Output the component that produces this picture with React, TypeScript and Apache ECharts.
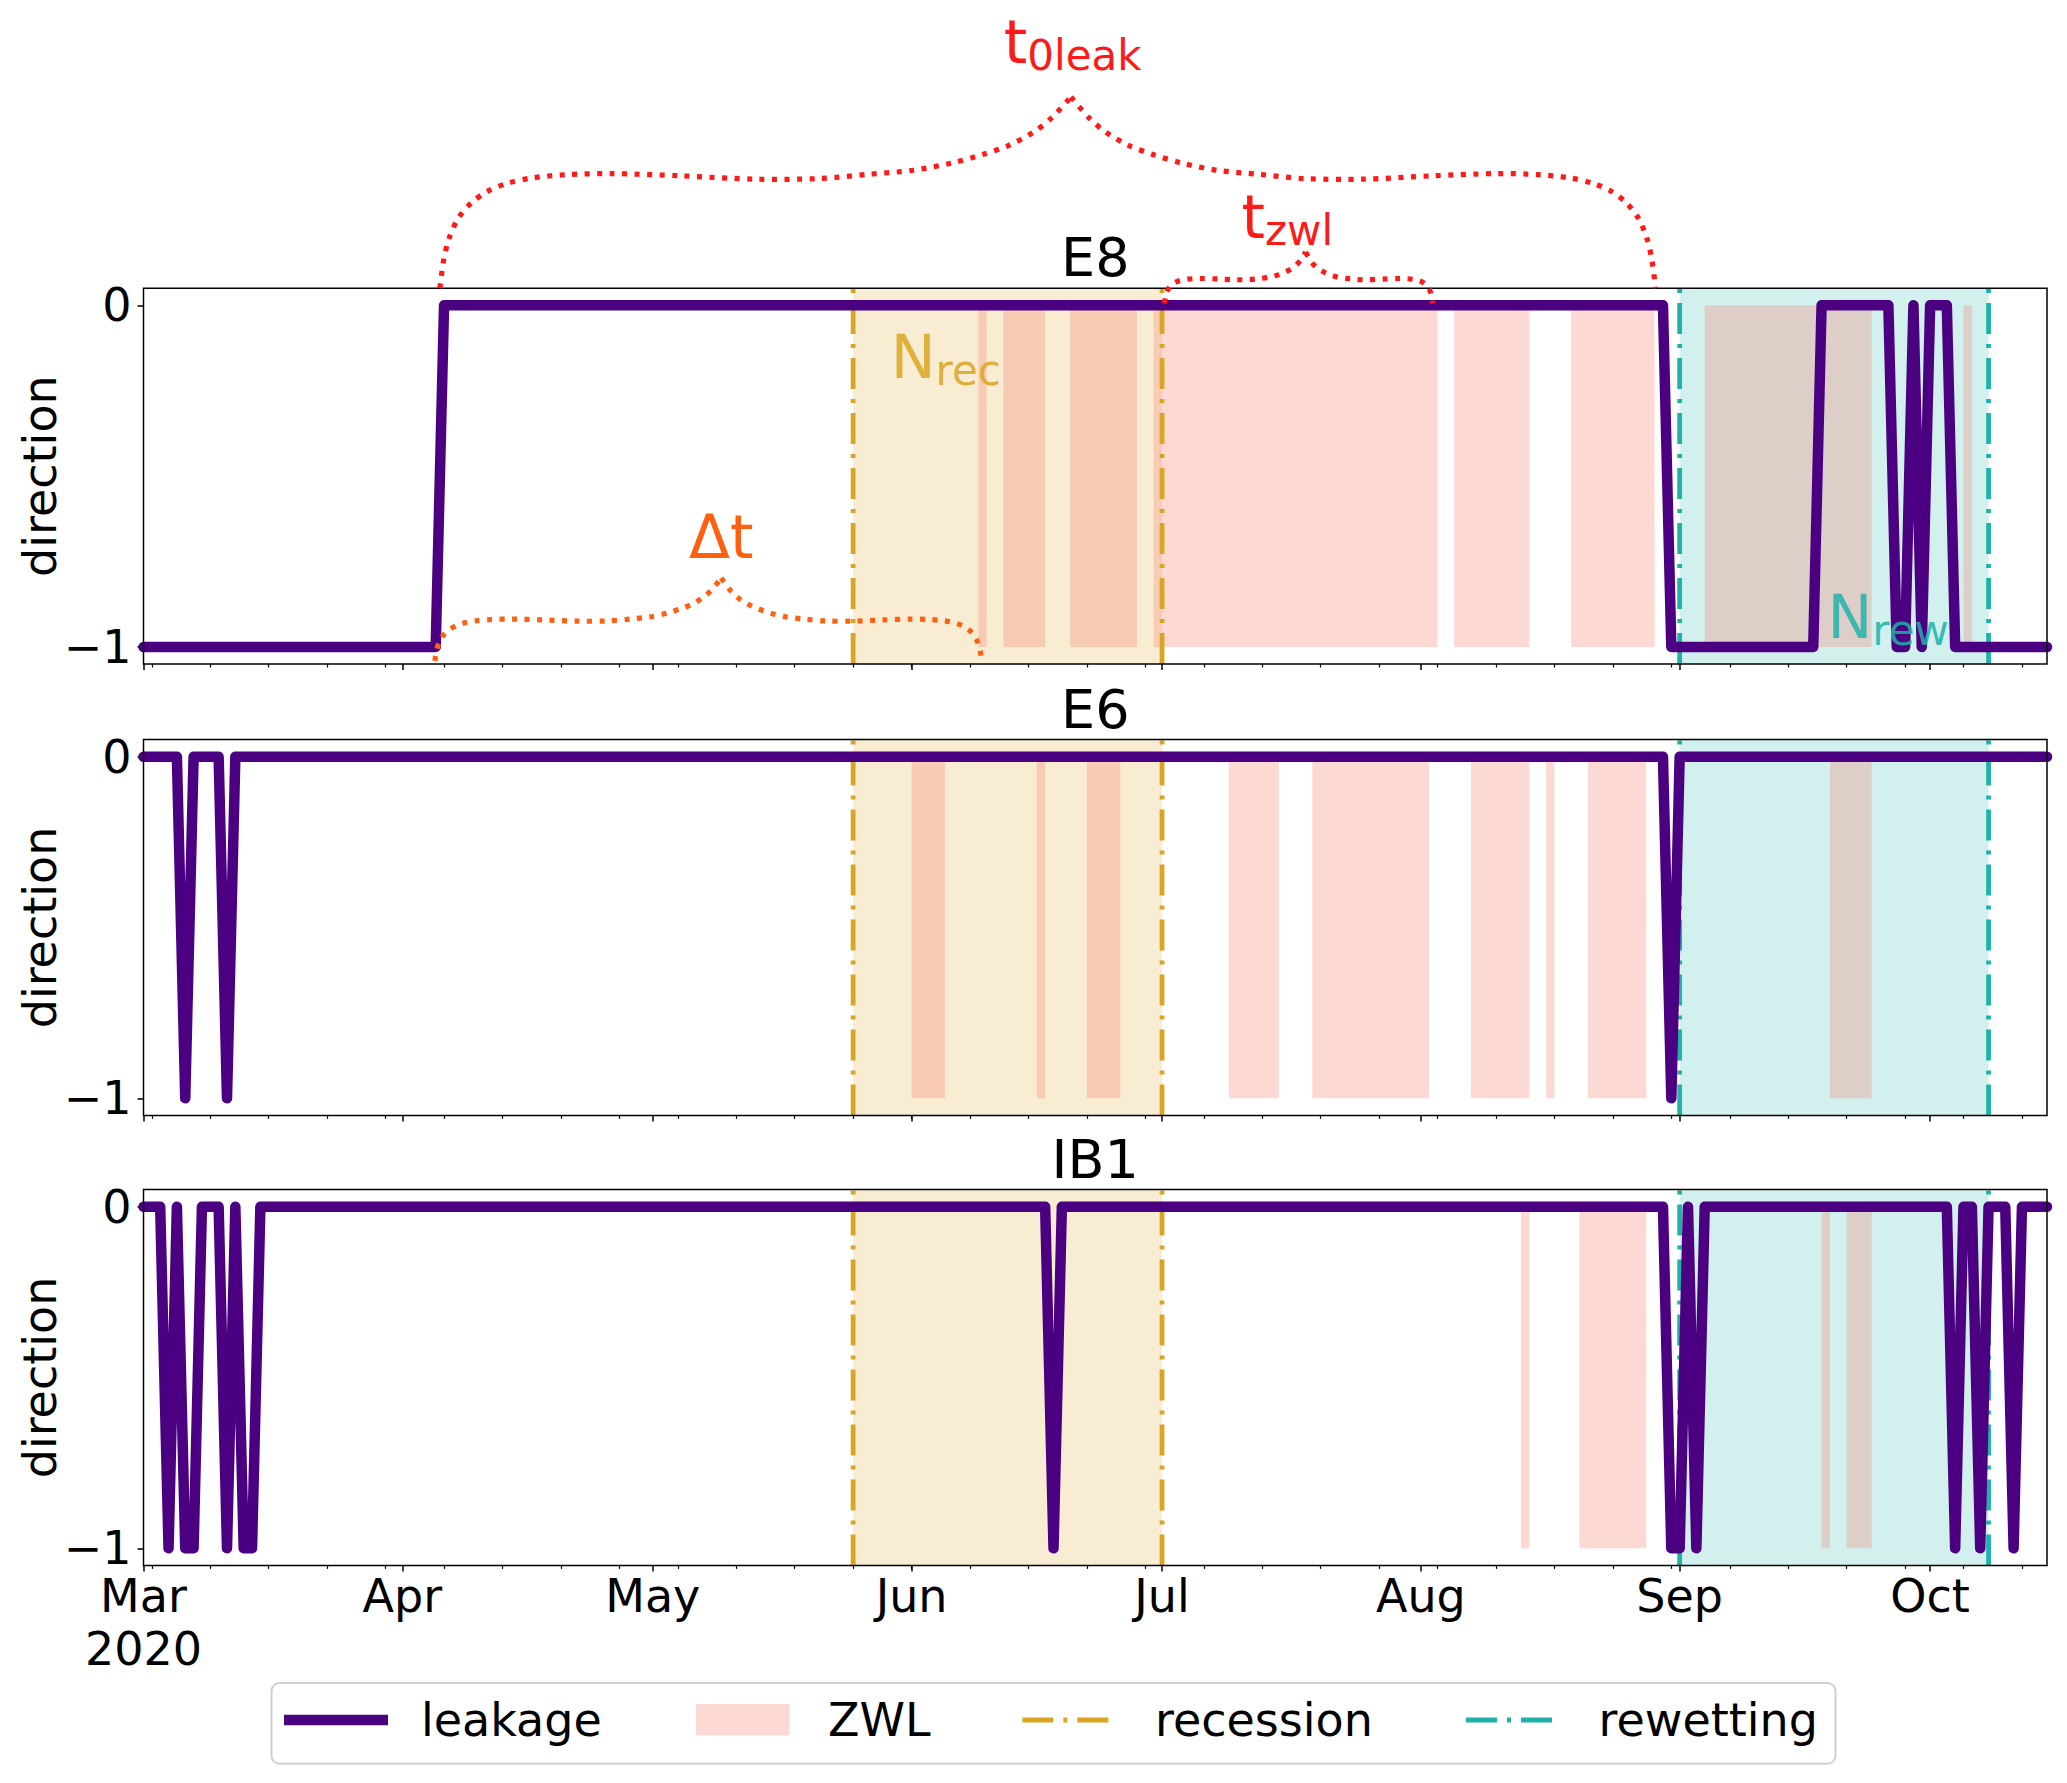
import React, { useEffect, useRef } from "react";
import * as echarts from "echarts";

const WIDTH = 2067;
const HEIGHT = 1783;
const FONT = "DejaVu Sans";

// x values: days since 2020-03-01
const X_MIN = 0;
const X_MAX = 228;
const Y_MIN = -1.05;
const Y_MAX = 0.05;

const monthTickDays = [0, 31, 61, 92, 122, 153, 184, 214];
const monthTickLabels = ["Mar\n2020", "Apr", "May", "Jun", "Jul", "Aug", "Sep", "Oct"];
const weekTickDays = [1, 8, 15, 22, 29, 36, 43, 50, 57, 64, 71, 78, 85, 92, 99, 106, 113, 120, 127, 134, 141, 148, 155, 162, 169, 176, 183, 190, 197, 204, 211, 218, 225];
const yTickValues = [0, -1];
const yTickLabels = ["0", "\u22121"];

const panelNames = ["E8", "E6", "IB1"];

// leakage direction, [day, value] at each corner of the daily series
const leakageE8 = [[0, -1], [35, -1], [36, 0], [182, 0], [183, -1], [200, -1], [201, 0], [209, 0], [210, -1], [211, -1], [212, 0], [213, -1], [214, 0], [216, 0], [217, -1], [228, -1]];
const leakageE6 = [[0, 0], [4, 0], [5, -1], [6, 0], [9, 0], [10, -1], [11, 0], [182, 0], [183, -1], [184, 0], [228, 0]];
const leakageIB1 = [[0, 0], [2, 0], [3, -1], [4, 0], [5, -1], [6, -1], [7, 0], [9, 0], [10, -1], [11, 0], [12, -1], [13, -1], [14, 0], [108, 0], [109, -1], [110, 0], [182, 0], [183, -1], [184, -1], [185, 0], [186, -1], [187, 0], [216, 0], [217, -1], [218, 0], [219, 0], [220, -1], [221, 0], [223, 0], [224, -1], [225, 0], [228, 0]];

// ZWL periods [startDay, endDay]
const zwlE8 = [[100, 101], [103, 108], [111, 119], [121, 155], [157, 166], [171, 181], [187, 207], [218, 219]];
const zwlE6 = [[92, 96], [107, 108], [113, 117], [130, 136], [140, 154], [159, 166], [168, 169], [173, 180], [202, 207]];
const zwlIB1 = [[165, 166], [172, 180], [201, 202], [204, 207]];

const recessionPeriod = [85, 122];
const rewettingPeriod = [184, 221];

// braces on the E8 panel: [fromDay, toDay, peakDay, yEnd, yFlat, yPeak]
const braceT0leak = [35.5, 181.1, 111.1, 0.05, 0.379, 0.61];
const braceTzwl = [122.3, 154.4, 139.2, 0.005, 0.077, 0.156];
const braceDeltaT = [34.9, 100.4, 69.2, -1.041, -0.921, -0.798];

// annotation labels: [day, baseline value]
const labelT0leak = [111.3, 0.724];
const labelTzwl = [137.0, 0.212];
const labelDeltaT = [69.2, -0.727];
const labelNrec = [89.5, -0.199];
const labelNrew = [201.7, -0.96];

// ---------- styles ----------
const LEAK_COLOR = "#4B0082";
const ZWL_FILL = "rgba(250,128,114,0.3)";
const REC_COLOR = "#DAA520";
const REW_COLOR = "#20B2AA";
const REC_FILL = "rgba(218,165,32,0.2)";
const REW_FILL = "rgba(32,178,170,0.2)";
const DASHDOT = [31, 10, 4, 10];
const DASH_W = 4.8;
const RED = "#FF1A1A";
const ORANGE = "#FF5F0F";

const GRID_LEFT = 143.5;
const GRID_WIDTH = 1903.5;
const GRID_HEIGHT = 375.8;
const GRID_TOPS = [288.2, 739.6, 1189.6];

const leakageSets = [leakageE8, leakageE6, leakageIB1];
const zwlSets = [zwlE8, zwlE6, zwlIB1];

// half-brace template: [u, flatFrac, peakFrac]
const BRACE_TEMPLATE = [
  [0, 0, 0], [0.006, 0.25, 0], [0.015, 0.45, 0], [0.03, 0.63, 0], [0.05, 0.76, 0], [0.075, 0.86, 0],
  [0.105, 0.93, 0], [0.145, 0.98, 0], [0.2, 1.01, 0], [0.27, 1.02, 0], [0.38, 1.0, 0], [0.5, 0.97, 0],
  [0.6, 0.975, 0], [0.68, 1.0, 0.02], [0.75, 1, 0.07], [0.81, 1, 0.16], [0.86, 1, 0.27], [0.9, 1, 0.38],
  [0.94, 1, 0.55], [0.97, 1, 0.74], [1, 1, 1],
];

function tickLabelFor(v: number) {
  const i = monthTickDays.indexOf(Math.round(v));
  return i >= 0 ? monthTickLabels[i] : "";
}

function richLabel(main: string, sub: string | null, color: string) {
  return {
    text: sub ? `{m|${main}}{s|${sub}}` : `{m|${main}}`,
    fill: color,
    verticalAlign: "bottom",
    rich: {
      m: { fontSize: 60, fontFamily: FONT, lineHeight: 60, padding: [0, 0, 9, 0], fill: color },
      s: { fontSize: 42, fontFamily: FONT, lineHeight: 42, verticalAlign: "bottom", fill: color },
    },
  };
}

export default function App() {
  const ref = useRef<HTMLDivElement>(null);

  useEffect(() => {
    if (!ref.current) return;
    const chart = echarts.init(ref.current, null, { renderer: "svg" });

    const grid = GRID_TOPS.map((top) => ({ left: GRID_LEFT, top, width: GRID_WIDTH, height: GRID_HEIGHT, show: false }));

    const xAxis: any[] = [];
    const yAxis: any[] = [];
    const series: any[] = [];

    for (let i = 0; i < 3; i++) {
      xAxis.push({
        gridIndex: i,
        type: "value",
        min: X_MIN,
        max: X_MAX,
        position: "bottom",
        axisLine: { show: false, onZero: false },
        splitLine: { show: false },
        axisTick: { show: true, customValues: monthTickDays, length: 6, lineStyle: { color: "#000", width: 1.5 } },
        axisLabel: {
          show: i === 2,
          customValues: monthTickDays,
          formatter: (v: number) => tickLabelFor(v),
          fontSize: 46,
          fontFamily: FONT,
          color: "#000",
          lineHeight: 53,
          margin: 4,
          align: "center",
        },
      });
      xAxis.push({
        gridIndex: i,
        type: "value",
        min: X_MIN,
        max: X_MAX,
        position: "bottom",
        offset: 0,
        axisLine: { show: false, onZero: false },
        splitLine: { show: false },
        axisTick: { show: true, customValues: weekTickDays, length: 3.5, lineStyle: { color: "#000", width: 1.2 } },
        axisLabel: { show: false },
      });
      yAxis.push({
        gridIndex: i,
        type: "value",
        min: Y_MIN,
        max: Y_MAX,
        position: "left",
        axisLine: { show: false, onZero: false },
        splitLine: { show: false },
        axisTick: { show: true, customValues: yTickValues, length: 6, lineStyle: { color: "#000", width: 1.5 } },
        axisLabel: {
          customValues: yTickValues,
          formatter: (v: number) => yTickLabels[yTickValues.indexOf(Math.round(v))] ?? "",
          fontSize: 46,
          fontFamily: FONT,
          color: "#000",
          margin: 12,
        },
      });

      const xi = 2 * i;
      const yi = i;

      // recession / rewetting shading
      series.push({
        type: "custom",
        xAxisIndex: xi,
        yAxisIndex: yi,
        z: 1,
        silent: true,
        encode: { x: [0, 1] },
        data: [[recessionPeriod[0], recessionPeriod[1], 0], [rewettingPeriod[0], rewettingPeriod[1], 1]],
        renderItem: (params: any, api: any) => {
          const x0 = api.coord([api.value(0), 0])[0];
          const x1 = api.coord([api.value(1), 0])[0];
          const cs = params.coordSys;
          return {
            type: "rect",
            shape: { x: x0, y: cs.y, width: x1 - x0, height: cs.height },
            style: { fill: api.value(2) === 0 ? REC_FILL : REW_FILL },
          };
        },
      });

      // ZWL periods
      series.push({
        type: "custom",
        name: "ZWL",
        xAxisIndex: xi,
        yAxisIndex: yi,
        z: 2,
        silent: true,
        encode: { x: [0, 1] },
        data: zwlSets[i],
        renderItem: (params: any, api: any) => {
          const p0 = api.coord([api.value(0), 0]);
          const p1 = api.coord([api.value(1), -1]);
          return {
            type: "rect",
            shape: { x: p0[0], y: p0[1], width: p1[0] - p0[0], height: p1[1] - p0[1] },
            style: { fill: ZWL_FILL },
          };
        },
      });

      // recession / rewetting boundaries
      series.push({
        type: "custom",
        xAxisIndex: xi,
        yAxisIndex: yi,
        z: 3,
        silent: true,
        encode: { x: 0 },
        data: [[recessionPeriod[0], 0], [recessionPeriod[1], 0], [rewettingPeriod[0], 1], [rewettingPeriod[1], 1]],
        renderItem: (params: any, api: any) => {
          const x = api.coord([api.value(0), 0])[0];
          const cs = params.coordSys;
          return {
            type: "line",
            shape: { x1: x, y1: cs.y + cs.height, x2: x, y2: cs.y },
            style: { stroke: api.value(1) === 0 ? REC_COLOR : REW_COLOR, lineWidth: DASH_W, lineDash: DASHDOT, lineCap: "butt" },
          };
        },
      });

      // leakage
      series.push({
        type: "line",
        name: "leakage",
        xAxisIndex: xi,
        yAxisIndex: yi,
        z: 4,
        data: leakageSets[i],
        symbol: "none",
        showSymbol: false,
        lineStyle: { color: LEAK_COLOR, width: 10.5, join: "round", cap: "round" },
        clip: false,
      });

      // frame
      series.push({
        type: "custom",
        xAxisIndex: xi,
        yAxisIndex: yi,
        z: 5,
        silent: true,
        data: [[0, 0]],
        renderItem: (params: any) => {
          const cs = params.coordSys;
          return {
            type: "rect",
            shape: { x: cs.x, y: cs.y, width: cs.width, height: cs.height },
            style: { fill: "none", stroke: "#000", lineWidth: 1.5 },
          };
        },
      });
    }

    // braces on E8 panel
    const braceColors = [RED, RED, ORANGE];
    series.push({
      type: "custom",
      xAxisIndex: 0,
      yAxisIndex: 0,
      z: 6,
      silent: true,
      clip: false,
      encode: { x: [0, 1] },
      data: [braceT0leak.concat([0]), braceTzwl.concat([1]), braceDeltaT.concat([2])],
      renderItem: (params: any, api: any) => {
        const from = api.value(0), to = api.value(1), peak = api.value(2);
        const yEnd = api.value(3), yFlat = api.value(4), yPeak = api.value(5);
        const color = braceColors[api.value(6)];
        const A = api.coord([from, yEnd]);
        const B = api.coord([to, yEnd]);
        const P = api.coord([peak, yPeak]);
        const hEnd = A[1];
        const hFlat = api.coord([peak, yFlat])[1];
        const hPeak = P[1];
        const half = (xs: number) =>
          BRACE_TEMPLATE.map(([u, a, b]) => [xs + u * (P[0] - xs), hEnd + a * (hFlat - hEnd) + b * (hPeak - hFlat)]);
        const style = { stroke: color, fill: "none", lineWidth: 5.2, lineDash: [5, 7.5], lineCap: "butt" };
        return {
          type: "group",
          children: [
            { type: "polyline", shape: { points: half(A[0]), smooth: 0.3 }, style },
            { type: "polyline", shape: { points: half(B[0]).reverse(), smooth: 0.3 }, style },
          ],
        };
      },
    });

    // annotation labels on E8 panel
    const labelDefs = [
      { pos: labelT0leak, main: "t", sub: "0leak", color: RED, align: "center" },
      { pos: labelTzwl, main: "t", sub: "zwl", color: RED, align: "center" },
      { pos: labelDeltaT, main: "\u0394t", sub: null, color: ORANGE, align: "center" },
      { pos: labelNrec, main: "N", sub: "rec", color: "rgba(218,165,32,0.85)", align: "left" },
      { pos: labelNrew, main: "N", sub: "rew", color: "rgba(32,178,170,0.85)", align: "left" },
    ];
    series.push({
      type: "custom",
      xAxisIndex: 0,
      yAxisIndex: 0,
      z: 7,
      silent: true,
      clip: false,
      encode: { x: 0, y: 1 },
      data: labelDefs.map((d, k) => [d.pos[0], d.pos[1], k]),
      renderItem: (params: any, api: any) => {
        const d = labelDefs[api.value(2)];
        const p = api.coord([api.value(0), api.value(1)]);
        return {
          type: "text",
          x: p[0],
          y: p[1] + 18.2,
          style: { ...richLabel(d.main, d.sub, d.color), align: d.align },
        };
      },
    });

    // titles, y labels, legend
    const graphic: any[] = [];
    const gridCenterX = GRID_LEFT + GRID_WIDTH / 2;
    GRID_TOPS.forEach((top, i) => {
      graphic.push({
        type: "text",
        x: gridCenterX,
        y: top - 30.5,
        style: { text: panelNames[i], fontSize: 54, fontFamily: FONT, fill: "#000", align: "center", verticalAlign: "middle" },
      });
      graphic.push({
        type: "text",
        x: 40,
        y: top + GRID_HEIGHT / 2,
        rotation: Math.PI / 2,
        style: { text: "direction", fontSize: 46, fontFamily: FONT, fill: "#000", align: "center", verticalAlign: "middle" },
      });
    });

    const LY = 1720;
    graphic.push(
      {
        type: "rect",
        shape: { x: 271.5, y: 1683, width: 1564, height: 80.7, r: 8 },
        style: { fill: "rgba(255,255,255,0.8)", stroke: "#D0D0D0", lineWidth: 2 },
      },
      { type: "line", shape: { x1: 284, y1: LY, x2: 388, y2: LY }, style: { stroke: LEAK_COLOR, lineWidth: 10.5 } },
      { type: "text", x: 421, y: LY, style: { text: "leakage", fontSize: 46, fontFamily: FONT, fill: "#000", verticalAlign: "middle" } },
      { type: "rect", shape: { x: 696, y: 1704, width: 93.5, height: 31.4 }, style: { fill: ZWL_FILL } },
      { type: "text", x: 828, y: LY, style: { text: "ZWL", fontSize: 46, fontFamily: FONT, fill: "#000", verticalAlign: "middle" } },
      { type: "line", shape: { x1: 1022.4, y1: LY, x2: 1115.6, y2: LY }, style: { stroke: REC_COLOR, lineWidth: DASH_W, lineDash: DASHDOT } },
      { type: "text", x: 1155, y: LY, style: { text: "recession", fontSize: 46, fontFamily: FONT, fill: "#000", verticalAlign: "middle" } },
      { type: "line", shape: { x1: 1466, y1: LY, x2: 1559, y2: LY }, style: { stroke: REW_COLOR, lineWidth: DASH_W, lineDash: DASHDOT } },
      { type: "text", x: 1598.6, y: LY, style: { text: "rewetting", fontSize: 46, fontFamily: FONT, fill: "#000", verticalAlign: "middle" } }
    );

    chart.setOption({
      animation: false,
      backgroundColor: "#fff",
      textStyle: { fontFamily: FONT },
      grid,
      xAxis,
      yAxis,
      series,
      graphic,
    });

    return () => chart.dispose();
  }, []);

  return <div ref={ref} style={{ position: "fixed", left: 0, top: 0, width: WIDTH, height: HEIGHT }} />;
}
